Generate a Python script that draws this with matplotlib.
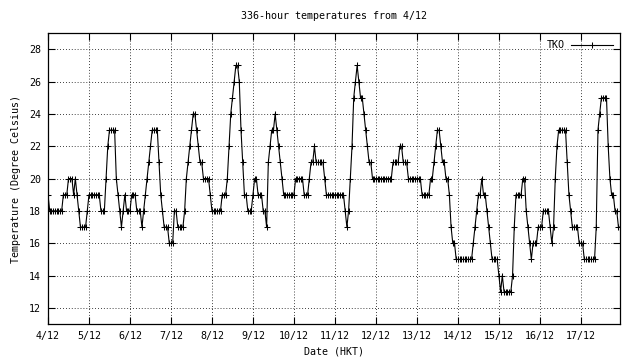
import matplotlib
matplotlib.use("Agg")
import matplotlib.pyplot as plt
import numpy as np

# hourly readings at TKO, one list per day
day_04 = [19, 18, 18, 18, 18, 18, 18, 18, 18, 19, 19, 19, 20, 20, 20, 19, 20, 19, 18, 17, 17, 17, 17, 18]
day_05 = [19, 19, 19, 19, 19, 19, 19, 18, 18, 18, 20, 22, 23, 23, 23, 23, 20, 19, 18, 17, 18, 19, 18, 18]
day_06 = [18, 19, 19, 19, 18, 18, 18, 17, 18, 19, 20, 21, 22, 23, 23, 23, 23, 21, 19, 18, 17, 17, 17, 16]
day_07 = [16, 16, 18, 18, 17, 17, 17, 17, 18, 20, 21, 22, 23, 24, 24, 23, 22, 21, 21, 20, 20, 20, 20, 19]
day_08 = [18, 18, 18, 18, 18, 18, 19, 19, 19, 20, 22, 24, 25, 26, 27, 27, 26, 23, 21, 19, 19, 18, 18, 18]
day_09 = [19, 20, 20, 19, 19, 19, 18, 18, 17, 21, 22, 23, 23, 24, 23, 22, 21, 20, 19, 19, 19, 19, 19, 19]
day_10 = [19, 20, 20, 20, 20, 20, 19, 19, 19, 20, 21, 21, 22, 21, 21, 21, 21, 21, 20, 19, 19, 19, 19, 19]
day_11 = [19, 19, 19, 19, 19, 19, 18, 17, 18, 20, 22, 25, 26, 27, 26, 25, 25, 24, 23, 22, 21, 21, 20, 20]
day_12 = [20, 20, 20, 20, 20, 20, 20, 20, 20, 20, 21, 21, 21, 21, 22, 22, 21, 21, 21, 20, 20, 20, 20, 20]
day_13 = [20, 20, 20, 19, 19, 19, 19, 19, 20, 20, 21, 22, 23, 23, 22, 21, 21, 20, 20, 19, 17, 16, 16, 15]
day_14 = [15, 15, 15, 15, 15, 15, 15, 15, 15, 16, 17, 18, 19, 19, 20, 19, 19, 18, 17, 16, 15, 15, 15, 15]
day_15 = [14, 13, 14, 13, 13, 13, 13, 13, 14, 17, 19, 19, 19, 19, 20, 20, 18, 17, 16, 15, 16, 16, 16, 17]
day_16 = [17, 17, 18, 18, 18, 18, 17, 16, 17, 20, 22, 23, 23, 23, 23, 23, 21, 19, 18, 17, 17, 17, 17, 16]
day_17 = [16, 16, 15, 15, 15, 15, 15, 15, 15, 17, 23, 24, 25, 25, 25, 25, 22, 20, 19, 19, 18, 18, 17, 17]

date_labels = ["4/12", "5/12", "6/12", "7/12", "8/12", "9/12", "10/12",
               "11/12", "12/12", "13/12", "14/12", "15/12", "16/12", "17/12"]
y_ticks = [12, 14, 16, 18, 20, 22, 24, 26, 28]

temps = (day_04 + day_05 + day_06 + day_07 + day_08 + day_09 + day_10 +
         day_11 + day_12 + day_13 + day_14 + day_15 + day_16 + day_17)
hours = np.arange(len(temps))

plt.rcParams['font.family'] = ['DejaVu Sans Mono']
fs = 7.2

fig = plt.figure(figsize=(6.4, 3.6), dpi=100)
ax = fig.add_axes([0.075, 0.10, 0.894, 0.808])

ax.plot(hours, temps, color='black', linewidth=0.8, marker='+',
        markersize=5, markeredgewidth=0.75, label='TKO')

ax.set_xlim(0, len(temps) - 1)
ax.set_ylim(11, 29)
ax.set_xticks(np.arange(len(date_labels)) * 24)
ax.set_xticklabels(date_labels, fontsize=fs)
ax.set_yticks(y_ticks)
ax.set_yticklabels([str(v) for v in y_ticks], fontsize=fs)

ax.tick_params(direction='in', length=5, width=0.8, top=True, right=True, pad=5)
ax.grid(True, color='black', linestyle=(0, (1, 2.5)), linewidth=0.6)
for s in ax.spines.values():
    s.set_linewidth(0.9)

ax.set_title('336-hour temperatures from 4/12', fontsize=fs, pad=10)
ax.set_xlabel('Date (HKT)', fontsize=fs, labelpad=4)
ax.set_ylabel('Temperature (Degree Celsius)', fontsize=fs, labelpad=6)

leg = ax.legend(loc='upper right', frameon=False, fontsize=fs, markerfirst=False,
                handlelength=4.2, borderaxespad=0.3, handletextpad=0.6)

fig.savefig('out.png', dpi=100)
